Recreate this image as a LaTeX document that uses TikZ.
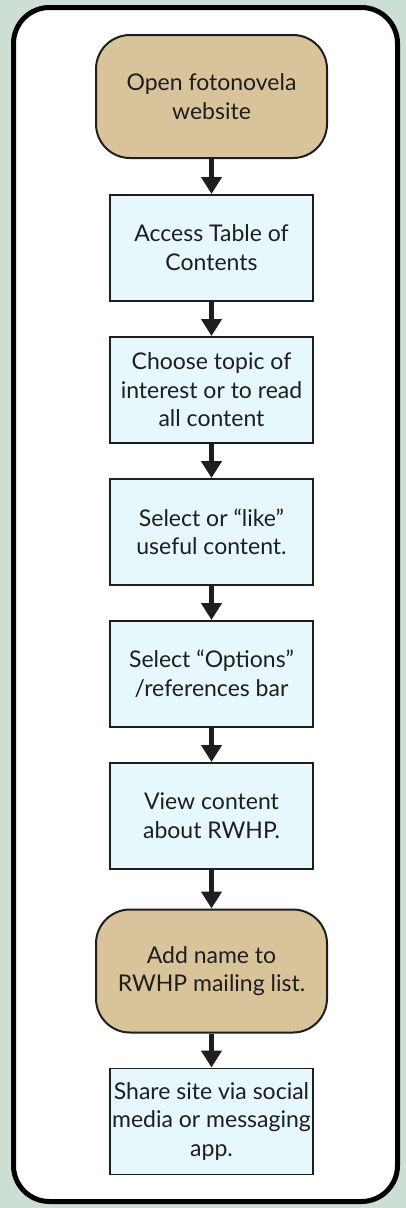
\documentclass[tikz,border=0pt]{standalone}
\usepackage{fontspec}
\setmainfont{Lato}
\usetikzlibrary{arrows.meta, positioning}

\definecolor{backdrop}{RGB}{205,222,212}
\definecolor{tan}{RGB}{216,195,155}
\definecolor{paleblue}{RGB}{230,248,252}
\definecolor{ink}{RGB}{30,30,30}

\begin{document}
\begin{tikzpicture}[x=1pt,y=1pt,node distance=36pt,
 font=\fontsize{23}{28.5}\selectfont,
 step box/.style={rectangle,draw=ink,line width=1.5pt,fill=paleblue,
  minimum width=203pt,minimum height=106pt,align=center,inner sep=1pt,text=ink},
 end box/.style={rectangle,rounded corners=34pt,draw=ink,line width=2pt,fill=tan,
  minimum width=231pt,minimum height=123pt,align=center,text=ink},
 flow/.style={draw=ink,line width=5pt,-{Triangle[width=20pt,length=17pt]}}]
  \useasboundingbox (0,0) rectangle (406,-1208);
  \fill[backdrop] (0,0) rectangle (406,-1208);
  \draw[line width=5pt,fill=white,rounded corners=36pt] (13.5,-7.5) rectangle (397.5,-1201.5);

  \node[end box] (1) at (211.5,-96.5) {Open fotonovela\\website};
  \node[step box] (2) [below=35pt of 1] {Access Table of\\Contents};
  \node[step box] (3) [below of=2, node distance=142pt] {Choose topic of\\interest or to read\\all content};
  \node[step box] (4) [below of=3, node distance=142pt] {Select or “like”\\useful content.};
  \node[step box] (5) [below of=4, node distance=142pt] {Select “Options”\\/references bar};
  \node[step box] (6) [below of=5, node distance=142pt] {View content\\about RWHP.};
  \node[end box] (7) [below=39pt of 6] {Add name to\\RWHP mailing list.};
  \node[step box] (8) [below=34pt of 7] {Share site via social\\media or messaging\\app.};

  \foreach \s/\t in {1/2, 2/3, 3/4, 4/5, 5/6, 6/7, 7/8} {
   \path[flow] (\s) -- (\t);}
\end{tikzpicture}
\end{document}
